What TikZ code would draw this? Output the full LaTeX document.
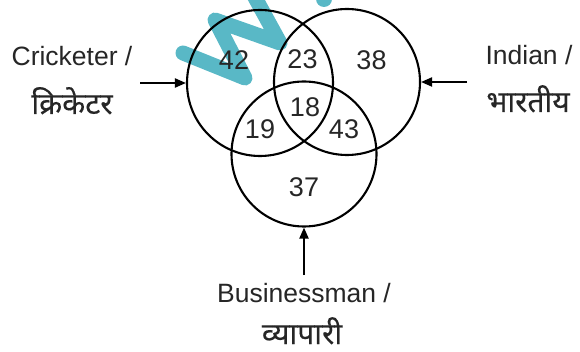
\documentclass[tikz,border=0pt]{standalone}
\usepackage{fontspec}
\setmainfont{Liberation Sans}
\newfontfamily\devfont[Script=Devanagari,FakeBold=0.25]{Noto Sans}
\usetikzlibrary{arrows.meta}
\definecolor{wmark}{RGB}{60,172,188}
\tikzset{
  venn/.style={circle, draw=black, line width=2.1pt, inner sep=0pt, minimum size=#1},
  num/.style={font=\fontsize{27}{30}\selectfont, inner sep=0pt, text=black!85},
  lab/.style={font=\fontsize{26.5}{30}\selectfont, inner sep=0pt, anchor=base, text=black!85},
  dlab/.style={font=\devfont\fontsize{30}{34}\selectfont, inner sep=0pt, anchor=base, text=black!85},
  arr/.style={-{Triangle[length=11pt,width=9pt]}, line width=2pt},
  wm/.style={draw=wmark, line width=15pt, line cap=round, line join=round, opacity=0.85}
}
\begin{document}
\begin{tikzpicture}[x=1pt,y=-1pt]
\useasboundingbox (0,0) rectangle (580,352);
% watermark fragment
\draw[wm] (183,53) -- (245,78) -- (215,20) -- (280,43) -- (252,-8);
\fill[wmark, opacity=0.85] (324,-1) circle (8);
% circles
\node[venn=146pt] (L) at (260,83) {};
\node[venn=146pt] (R) at (347,82) {};
\node[venn=145pt] (B) at (304,154) {};
% numbers
\node[num] (n42) at (234,60) {42};
\node[num] (n23) at (302.5,59) {23};
\node[num] (n38) at (371.5,60) {38};
\node[num] (n18) at (305,107) {18};
\node[num] (n19) at (260,129) {19};
\node[num] (n43) at (344,129) {43};
\node[num] (n37) at (304,187) {37};
% labels
\node[lab] (cr) at (72,66) {Cricketer /};
\node[dlab] (crh) at (72,114) {क्रिकेटर};
\node[lab] (in) at (529,65) {Indian /};
\node[dlab] (inh) at (528,112) {भारतीय};
\node[lab] (bu) at (304,302) {Businessman /};
\node[dlab] (buh) at (302,344) {व्यापारी};
% arrows
\coordinate (al) at (140,83);
\coordinate (ar) at (467,82);
\coordinate (ab) at (304,275);
\draw[arr] (al) -- (L.west);
\draw[arr] (ar) -- (R.east);
\draw[arr] (ab) -- (B.south);
\end{tikzpicture}
\end{document}
